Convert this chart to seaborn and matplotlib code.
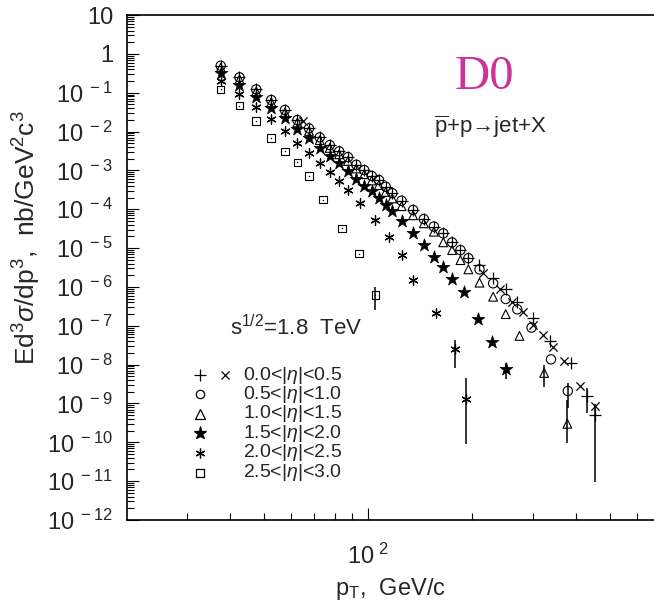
import numpy as np
import pandas as pd
import matplotlib
matplotlib.use("Agg")
import matplotlib.pyplot as plt
import seaborn as sns
from matplotlib.ticker import FixedLocator, FixedFormatter, NullFormatter

# ---- data (pT in GeV/c, nb/GeV^2c^3) ----
pt_lo = [37.5, 42.5, 47.5, 52.5, 57.5, 62.5, 67.5, 72.5, 77.5, 82.5, 87.5,
         92.5, 97.5, 102.5, 107.5, 112.5, 117.5, 125, 135, 145, 155, 165,
         175, 185, 195]

# 0.5<|eta|<1.0  (circles)
pt_circ = pt_lo + [210, 230, 250, 270, 297, 338, 378]
y_circ = [0.495, 0.249, 0.122, 0.065, 0.036, 0.0198, 0.0121, 0.0071, 0.0045,
          0.0031, 0.0022, 0.0014, 0.00102, 7.2e-4, 5.7e-4, 3.8e-4, 2.6e-4,
          1.66e-4, 9.6e-5, 5.6e-5, 3.6e-5, 2.4e-5, 1.4e-5, 8.9e-6, 5.5e-6,
          2.84e-6, 1.24e-6, 4.9e-7, 2.66e-7, 9.0e-8, 1.37e-8, 2.1e-9]
err_circ = ([378], [3.4e-9], [7.5e-10])

# 0.0<|eta|<0.5  (plus)
pt_plus = pt_lo + [210, 230, 250, 270, 300, 336, 385, 429, 454]
y_plus = [0.495, 0.249, 0.122, 0.065, 0.036, 0.0198, 0.0121, 0.0071, 0.0045,
          0.0031, 0.0022, 0.0014, 0.00102, 7.2e-4, 5.7e-4, 3.8e-4, 2.6e-4,
          1.66e-4, 9.6e-5, 5.6e-5, 3.6e-5, 2.4e-5, 1.4e-5, 8.9e-6, 5.5e-6,
          3.7e-6, 1.67e-6, 8.7e-7, 4.0e-7, 1.56e-7, 4.1e-8, 1.08e-8, 1.56e-9,
          5.1e-10]
err_plus = ([429, 454], [2.46e-9, 9.5e-10], [5.6e-10, 9.7e-12])

# 0.0<|eta|<0.5  (cross)
pt_cross = [65, 215, 240, 261, 281, 300, 321, 342, 369, 411, 453]
y_cross = [0.0187, 2.33e-6, 8.7e-7, 4.0e-7, 2.23e-7, 1.08e-7, 5.8e-8,
           2.9e-8, 1.24e-8, 2.74e-9, 8.4e-10]

# 1.0<|eta|<1.5  (triangles)
pt_tri = pt_lo + [210, 230, 250, 274, 323, 377]
y_tri = [0.44, 0.22, 0.108, 0.057, 0.031, 0.0172, 0.0104, 0.0060, 0.0038,
         0.0026, 0.00175, 0.00112, 8.0e-4, 5.5e-4, 4.2e-4, 2.8e-4, 1.9e-4,
         1.2e-4, 7.0e-5, 4.35e-5, 2.64e-5, 1.41e-5, 8.9e-6, 4.9e-6, 2.84e-6,
         1.29e-6, 5.6e-7, 2.0e-7, 5.5e-8, 6.1e-9, 3.0e-10]
err_tri = ([323, 377], [9.8e-9, 1.23e-9], [2.6e-9, 9.4e-11])

# 1.5<|eta|<2.0  (filled stars)
pt_star = [37.5, 42.5, 47.5, 52.5, 57.5, 62.5, 67.5, 72.5, 77.5, 82.5, 87.5,
           92.5, 97.5, 102.5, 107.5, 112.5, 117.5, 125, 135, 145, 155, 165,
           175, 190, 208, 228, 250]
y_star = [0.316, 0.155, 0.0762, 0.0397, 0.0219, 0.0114, 0.00695, 0.00388,
          0.00235, 0.00152, 9.5e-4, 6.1e-4, 4.0e-4, 3.0e-4, 2.0e-4, 1.32e-4,
          8.9e-5, 4.9e-5, 2.38e-5, 1.19e-5, 5.9e-6, 3.3e-6, 1.57e-6, 7.3e-7,
          1.5e-7, 3.9e-8, 7.6e-9]
err_star = ([250], [1.1e-8], [4.3e-9])

# 2.0<|eta|<2.5  (asterisks)
pt_ast = [37.5, 42.5, 47.5, 52.5, 57.5, 62.5, 67.5, 72.5, 77.5, 82.5, 87.5,
          95, 105, 115, 125, 135, 157, 178, 192]
y_ast = [0.204, 0.0942, 0.0436, 0.0207, 0.0103, 0.00517, 0.00275, 0.00152,
         9.3e-4, 5.4e-4, 3.2e-4, 1.42e-4, 5.3e-5, 1.9e-5, 6.6e-6, 1.5e-6,
         2.1e-7, 2.5e-8, 1.3e-9]
err_ast = ([178, 192], [4.3e-8, 4.5e-9], [8.2e-9, 9.1e-11])

# 2.5<|eta|<3.0  (open squares)
pt_sq = [37.5, 42.5, 47.5, 52.5, 57.5, 62.5, 67.5, 74, 84, 94, 105]
y_sq = [0.122, 0.0469, 0.0189, 0.0068, 0.0031, 0.0016, 7.1e-4, 1.78e-4,
        3.2e-5, 7.2e-6, 6.2e-7]
err_sq = ([105], [9.8e-7], [2.6e-7])

legend_rows = [r"0.0<$|\eta|$<0.5", r"0.5<$|\eta|$<1.0", r"1.0<$|\eta|$<1.5",
               r"1.5<$|\eta|$<2.0", r"2.0<$|\eta|$<2.5", r"2.5<$|\eta|$<3.0"]

sns.set_style("ticks")
plt.rcParams['font.family'] = ['Liberation Sans', 'DejaVu Sans']
plt.rcParams['mathtext.fontset'] = 'custom'
plt.rcParams['mathtext.rm'] = 'Liberation Sans'
plt.rcParams['mathtext.it'] = 'Liberation Sans:italic'
plt.rcParams['mathtext.sf'] = 'Liberation Sans'

fig = plt.figure(figsize=(6.54, 6.09), dpi=100)
ax = fig.add_axes([0.1942, 0.1461, 0.8058, 0.8292])
ax.set_xscale('log')
ax.set_yscale('log')

asterisk = (6, 2, 0)
series = [
    (pt_sq, y_sq, 's', 30, True, 0.8),
    (pt_ast, y_ast, asterisk, 45, False, 0.9),
    (pt_star, y_star, '*', 95, False, 0.5),
    (pt_tri, y_tri, '^', 40, True, 0.8),
    (pt_circ, y_circ, 'o', 45, True, 0.8),
    (pt_plus, y_plus, '+', 70, False, 0.9),
    (pt_cross, y_cross, 'x', 35, False, 0.9),
]
for xs, ys, mk, size, hollow, lw in series:
    d = pd.DataFrame({'pt': xs, 'y': ys})
    if hollow:
        sns.scatterplot(data=d, x='pt', y='y', marker=mk, s=size, ax=ax,
                        facecolor='none', edgecolor='k', linewidth=lw)
    else:
        sns.scatterplot(data=d, x='pt', y='y', marker=mk, s=size, ax=ax,
                        color='k', edgecolor='k', linewidth=lw)

for ex, ehi, elo in [err_circ, err_plus, err_tri, err_star, err_ast, err_sq]:
    ax.vlines(ex, elo, ehi, color='k', lw=1.1)

# dots inside the squares, as in the original print
sns.scatterplot(x=pt_sq, y=y_sq, marker='.', s=4, color='k', linewidth=0, ax=ax)

ax.set_xlim(20.1, 671)
ax.set_ylim(1e-12, 10)

ax.xaxis.set_major_locator(FixedLocator([100]))
ax.xaxis.set_major_formatter(FixedFormatter([r'$10^{\ 2}$']))
ax.xaxis.set_minor_locator(FixedLocator([30, 40, 50, 60, 70, 80, 90,
                                         200, 300, 400, 500, 600]))
ax.xaxis.set_minor_formatter(NullFormatter())

decades = list(range(-12, 2))
ax.yaxis.set_major_locator(FixedLocator([10.0 ** k for k in decades]))
ylabs = []
for k in decades:
    if k == 1:
        ylabs.append('10')
    elif k == 0:
        ylabs.append('1')
    else:
        ylabs.append(r'$10^{\ %d}$' % k)
ax.yaxis.set_major_formatter(FixedFormatter(ylabs))
ax.yaxis.set_minor_locator(FixedLocator([m * 10.0 ** k for k in range(-12, 1)
                                         for m in range(2, 10)]))
ax.yaxis.set_minor_formatter(NullFormatter())

ax.tick_params(which='both', direction='in', top=False, right=False,
               width=0.8, color='k')
ax.tick_params(which='major', length=8.5, labelsize=17)
ax.tick_params(which='minor', length=5)
ax.tick_params(axis='y', pad=10)
ax.tick_params(axis='x', pad=17)

ax.spines['right'].set_visible(False)
for s in ['left', 'bottom', 'top']:
    ax.spines[s].set_linewidth(1.2)
    ax.spines[s].set_color('k')

ax.set_xlabel(r'p$_{\mathrm{T}}$,  GeV/c', fontsize=17, labelpad=5)
ax.set_ylabel(r'Ed$^3\sigma$/dp$^3$,  nb/GeV$^2$c$^3$', fontsize=19)
ax.yaxis.set_label_coords(-0.16, 0.56)

ax.text(0.679, 0.877, 'D0', transform=ax.transAxes, fontsize=35,
        family='Liberation Serif', color='#cc3399', ha='center', va='center')
ax.text(0.69, 0.778, r'$\overline{\mathrm{p}}$+p→jet+X',
        transform=ax.transAxes, fontsize=16, ha='center', va='center')
ax.text(0.195, 0.382, r's$^{1/2}$=1.8  TeV', transform=ax.transAxes,
        fontsize=16, ha='left', va='center')

# hand-drawn legend
row_y = [0.287, 0.249, 0.210, 0.172, 0.133, 0.094]
leg_marks = [('+', 8, False), ('o', 6, True), ('^', 6.5, True),
             ('*', 9.5, False), (asterisk, 7, False), ('s', 6, True)]
for ry, (mk, ms, hollow), lab in zip(row_y, leg_marks, legend_rows):
    ax.plot([0.1385], [ry], marker=mk, ms=ms, mfc='none' if hollow else 'k',
            mec='k', mew=0.9, ls='none', transform=ax.transAxes, clip_on=False)
    ax.text(0.220, ry, lab, transform=ax.transAxes, fontsize=14,
            ha='left', va='center')
ax.plot([0.186], [row_y[0]], marker='x', ms=6, mec='k', mew=0.9, ls='none',
        transform=ax.transAxes)

fig.savefig('out.png', dpi=100)
